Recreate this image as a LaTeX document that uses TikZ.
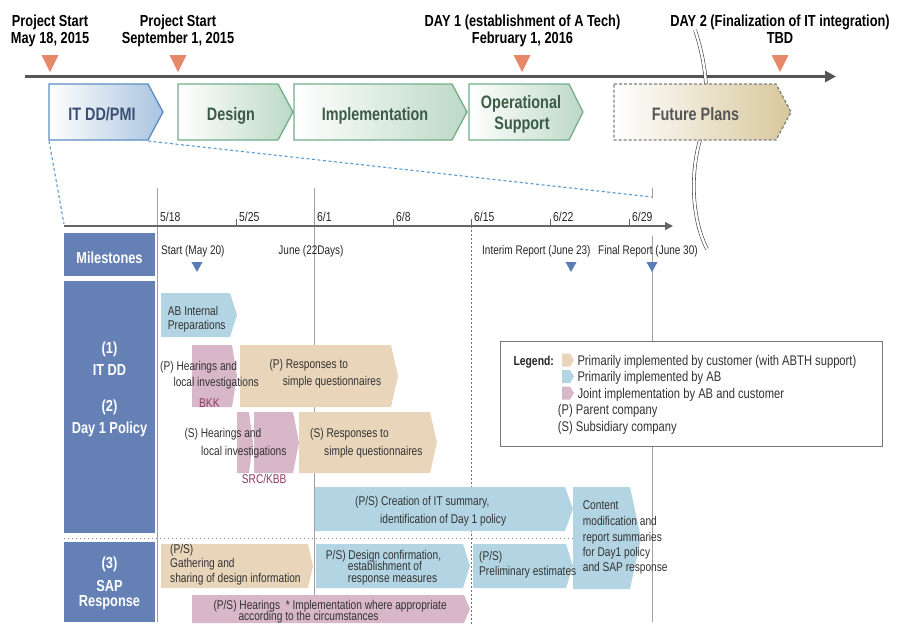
\documentclass[tikz,border=0pt]{standalone}
\usepackage{fontspec}
\setmainfont[FakeStretch=0.8]{Liberation Sans}
\usetikzlibrary{arrows.meta}
\definecolor{orng}{HTML}{E8886A}
\definecolor{tl}{HTML}{555555}
\definecolor{itdraw}{HTML}{5B8EC0}
\definecolor{itfill}{HTML}{A9C3DF}
\definecolor{ittext}{HTML}{3B4F73}
\definecolor{grdraw}{HTML}{72AD88}
\definecolor{grfill}{HTML}{BCD9C6}
\definecolor{grtext}{HTML}{3D5C46}
\definecolor{fpfill}{HTML}{D7C79B}
\definecolor{fptext}{HTML}{555555}
\definecolor{zoomc}{HTML}{5A9BD0}
\definecolor{axisc}{HTML}{666666}
\definecolor{vline}{HTML}{A0A0A0}
\definecolor{rowbox}{HTML}{6480B4}
\definecolor{mtri}{HTML}{5A7DB8}
\definecolor{abl}{HTML}{B3D5E3}
\definecolor{pnk}{HTML}{D8B7C9}
\definecolor{tanc}{HTML}{E8D5BA}
\definecolor{maroonc}{HTML}{8E3A64}
\definecolor{txt}{HTML}{333333}
\definecolor{lgd}{HTML}{777777}
\newcommand\pentshape[6]{\fill[#1] (#2,#5) -- (#3,#5) -- (#4,{(#5+#6)/2}) -- (#3,#6) -- (#2,#6) -- cycle;}
\newcommand\downtri[5]{\fill[#1] ({#2-#3},#4) -- ({#2+#3},#4) -- (#2,#5) -- cycle;}
\begin{document}
\begin{tikzpicture}[x=1pt,y=-1pt,
  hdr/.style={font=\fontsize{16}{18}\selectfont\bfseries, text=black, inner sep=0, anchor=base},
  phase/.style={font=\fontsize{18}{20}\selectfont\bfseries, inner sep=0, anchor=base},
  rowl/.style={font=\fontsize{16}{18}\selectfont\bfseries, text=white, inner sep=0, anchor=base},
  datel/.style={font=\fontsize{13}{15}\selectfont, text=black!85, inner sep=0, anchor=base west},
  msl/.style={font=\fontsize{12.5}{14}\selectfont, text=black!85, inner sep=0, anchor=base west},
  bt/.style={font=\fontsize{12.7}{15}\selectfont, text=txt, inner sep=0, anchor=base west},
  lg/.style={font=\fontsize{14}{16}\selectfont, text=txt, inner sep=0, anchor=base west},
  vl/.style={draw=vline, line width=1pt}]
\useasboundingbox (0,0) rectangle (907,625);

% ---------- top timeline ----------
\draw[tl, line width=3pt, -{Triangle[length=11pt,width=11pt]}] (25,76.5) -- (836,76.5);
\foreach \x in {50,178,522,780}{\downtri{orng}{\x}{8.5}{55}{72}}

% break mark
\draw[draw=black!75, line width=0.6pt, double=white, double distance=2.4pt]
  (695,30) .. controls (705,60) and (712,100) .. (700,140)
           .. controls (690,175) and (692,220) .. (707,249);

% headers
\node[hdr] (h1a) at (50,26.7) {Project Start};
\node[hdr] (h1b) at (50,43.3) {May 18, 2015};
\node[hdr] (h2a) at (178,26.7) {Project Start};
\node[hdr] (h2b) at (178,43.3) {September 1, 2015};
\node[hdr] (h3a) at (522.5,26.7) {DAY 1 (establishment of A Tech)};
\node[hdr] (h3b) at (522.5,43.3) {February 1, 2016};
\node[hdr] (h4a) at (780,26.7) {DAY 2 (Finalization of IT integration)};
\node[hdr] (h4b) at (780,43.3) {TBD};

% phases
\shadedraw[left color=white, right color=itfill, draw=itdraw, line width=1.3pt]
  (49,84) -- (148,84) -- (163,112) -- (148,140) -- (49,140) -- cycle;
\shadedraw[left color=white, right color=grfill, draw=grdraw, line width=1.3pt]
  (178,84) -- (278,84) -- (293,112) -- (278,140) -- (178,140) -- cycle;
\shadedraw[left color=white, right color=grfill, draw=grdraw, line width=1.3pt]
  (294,84) -- (452,84) -- (467,112) -- (452,140) -- (294,140) -- cycle;
\shadedraw[left color=white, right color=grfill, draw=grdraw, line width=1.3pt]
  (469,84) -- (569,84) -- (583,112) -- (569,140) -- (469,140) -- cycle;
\shadedraw[left color=white, right color=fpfill, draw=black!50, line width=1.3pt, dash pattern=on 3pt off 2pt]
  (614,84) -- (776,84) -- (791,112) -- (776,140) -- (614,140) -- cycle;
\node[phase, text=ittext] (p1) at (102,120) {IT DD/PMI};
\node[phase, text=grtext] (p2) at (231,120) {Design};
\node[phase, text=grtext] (p3) at (375,120) {Implementation};
\node[phase, text=grtext] (p4a) at (521,108.5) {Operational};
\node[phase, text=grtext] (p4b) at (522,129) {Support};
\node[phase, text=fptext] (p5) at (695.5,120) {Future Plans};

% zoom lines
\coordinate (itbl) at (49,141);
\coordinate (itbr) at (148,141);
\coordinate (axl) at (64,224);
\coordinate (fin) at (652,197);
\draw[zoomc, line width=1.1pt, dash pattern=on 3pt off 2.5pt] (itbl) -- (axl);
\draw[zoomc, line width=1.1pt, dash pattern=on 3pt off 2.5pt] (itbr) -- (fin);

% ---------- lower timeline ----------
\draw[vl] (157,188) -- (157,622);
\draw[vl] (314,188) -- (314,622);
\draw[vl] (652,188) -- (652,198);
\draw[vl] (652,236) -- (652,622);
\draw[draw=black!55, line width=0.9pt, dash pattern=on 1.5pt off 2.5pt] (471,226) -- (471,625);
\draw[axisc, line width=1.4pt, -{Triangle[length=8pt,width=8pt]}] (64,226) -- (673,226);
\foreach \x in {236,393,471,550,629}{\draw[axisc, line width=0.9pt] (\x,219) -- (\x,226);}
\node[datel] (d1) at (160,221.5) {5/18};
\node[datel] (d2) at (239,221.5) {5/25};
\node[datel] (d3) at (317,221.5) {6/1};
\node[datel] (d4) at (396,221.5) {6/8};
\node[datel] (d5) at (474,221.5) {6/15};
\node[datel] (d6) at (553,221.5) {6/22};
\node[datel] (d7) at (632,221.5) {6/29};

% row boxes
\fill[rowbox] (64,233) rectangle (155,276);
\fill[rowbox] (64,281) rectangle (155,533);
\fill[rowbox] (64,542) rectangle (155,622);
\node[rowl] (r1) at (109.5,263) {Milestones};
\node[rowl] (r2a) at (109.5,353) {(1)};
\node[rowl] (r2b) at (109.5,375) {IT DD};
\node[rowl] (r2c) at (109.5,411) {(2)};
\node[rowl] (r2d) at (109.5,433.5) {Day 1 Policy};
\node[rowl] (r3a) at (109.5,568) {(3)};
\node[rowl] (r3b) at (109.5,591.5) {SAP};
\node[rowl] (r3c) at (109.5,606.5) {Response};

\draw[black!45, line width=1pt, dash pattern=on 1.2pt off 2.8pt] (64,538.5) -- (573,538.5);

% milestones
\node[msl] (m1) at (161,254) {Start (May 20)};
\node[msl, anchor=base] (m2) at (311,254) {June (22Days)};
\node[msl] (m3) at (482,254) {Interim Report (June 23)};
\node[msl] (m4) at (598,254) {Final Report (June 30)};
\downtri{mtri}{197}{5.5}{262}{272}
\downtri{mtri}{571}{5.5}{262}{272}
\downtri{mtri}{652}{5.5}{262}{272}

% bars
\pentshape{abl}{161}{230}{237}{293}{337}
\pentshape{pnk}{192}{232}{237}{345}{407}
\pentshape{tanc}{240}{391}{398}{345}{407}
\pentshape{pnk}{237}{249}{253}{412}{473}
\pentshape{pnk}{254}{293}{299}{412}{473}
\pentshape{tanc}{299}{430}{437}{412}{473}
\pentshape{abl}{315}{565}{573}{487}{531}
\pentshape{abl}{573}{630}{641}{487}{589}
\pentshape{tanc}{161}{308}{313}{544}{588}
\pentshape{abl}{316}{463}{470}{544}{588}
\pentshape{abl}{473}{566}{573}{544}{588}
\pentshape{pnk}{192}{464}{470}{595}{623}

\node[bt] (b1a) at (167.7,315) {AB Internal};
\node[bt] (b1b) at (167.7,329.5) {Preparations};
\node[bt] (b2a) at (160,370.5) {(P) Hearings and};
\node[bt] (b2b) at (173.3,386.5) {local investigations};
\node[bt, text=maroonc] (b2c) at (199,407.5) {BKK};
\node[bt] (b3a) at (269.3,368.5) {(P) Responses to};
\node[bt] (b3b) at (282.7,385.5) {simple questionnaires};
\node[bt] (b4a) at (184.3,437.5) {(S) Hearings and};
\node[bt] (b4b) at (201,455.7) {local investigations};
\node[bt, text=maroonc] (b4c) at (241.7,483.5) {SRC/KBB};
\node[bt] (b5a) at (310,437.5) {(S) Responses to};
\node[bt] (b5b) at (324,455.7) {simple questionnaires};
\node[bt] (b6a) at (355,505.5) {(P/S) Creation of IT summary,};
\node[bt] (b6b) at (380,523.5) {identification of Day 1 policy};
\node[bt] (b7a) at (582.7,509.5) {Content};
\node[bt] (b7b) at (582.7,525.7) {modification and};
\node[bt] (b7c) at (582.7,541) {report summaries};
\node[bt] (b7d) at (582.7,556) {for Day1 policy};
\node[bt] (b7e) at (582.7,571) {and SAP response};
\node[bt] (b8a) at (170,553.5) {(P/S)};
\node[bt] (b8b) at (170,567.3) {Gathering and};
\node[bt] (b8c) at (170,582.3) {sharing of design information};
\node[bt] (b9a) at (325.7,559) {P/S) Design confirmation,};
\node[bt] (b9b) at (347.7,570.5) {establishment of};
\node[bt] (b9c) at (347.7,582) {response measures};
\node[bt] (b10a) at (479,560.5) {(P/S)};
\node[bt] (b10b) at (479,575.7) {Preliminary estimates};
\node[bt] (b11a) at (213.3,609) {(P/S) Hearings\ \ * Implementation where appropriate};
\node[bt] (b11b) at (238.3,620.5) {according to the circumstances};

% legend
\filldraw[fill=white, draw=lgd, line width=0.9pt] (500,341.5) rectangle (882,446.5);
\node[lg, font=\fontsize{13}{15}\selectfont\bfseries, text=black!85] (lgh) at (513.3,365) {Legend:};
\pentshape{tanc}{562}{570}{574}{353.5}{366.5}
\pentshape{abl}{562}{570}{574}{370}{383}
\pentshape{pnk}{562}{570}{574}{386.5}{399.5}
\node[lg] (l1) at (577.3,365) {Primarily implemented by customer (with ABTH support)};
\node[lg] (l2) at (577.3,381.5) {Primarily implemented by AB};
\node[lg] (l3) at (577.3,398) {Joint implementation by AB and customer};
\node[lg] (l4) at (557.7,414.5) {(P) Parent company};
\node[lg] (l5) at (557.7,431) {(S) Subsidiary company};
\end{tikzpicture}
\end{document}
